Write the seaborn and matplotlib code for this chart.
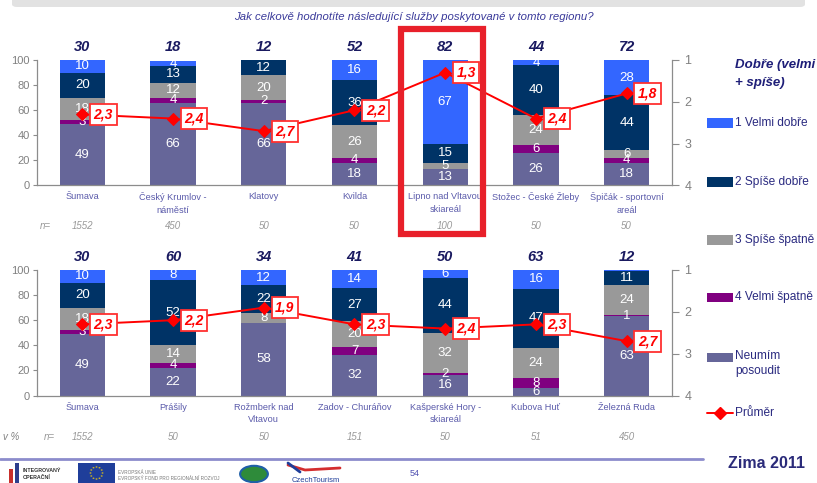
import numpy as np
import pandas as pd
import matplotlib
matplotlib.use("Agg")
import matplotlib.pyplot as plt
from matplotlib.patches import Rectangle, FancyBboxPatch, Circle
from matplotlib.lines import Line2D
import seaborn as sns

# ---------------- data ----------------
title = "Jak celkově hodnotíte následující služby poskytované v tomto regionu?"

top_categories = ["Šumava", "Český Krumlov -\nnáměstí", "Klatovy", "Kvilda",
                  "Lipno nad Vltavou\nskiareál", "Stožec - České Žleby",
                  "Špičák - sportovní\nareál"]
top_velmi_dobre = [10, 4, 0, 16, 67, 4, 28]
top_spise_dobre = [20, 13, 12, 36, 15, 40, 44]
top_spise_spatne = [18, 12, 20, 26, 5, 24, 6]
top_velmi_spatne = [3, 4, 2, 4, 0, 6, 4]
top_neumim = [49, 66, 66, 18, 13, 26, 18]
top_dobre = [30, 18, 12, 52, 82, 44, 72]
top_prumer = [2.3, 2.4, 2.7, 2.2, 1.3, 2.4, 1.8]
top_n = ["1552", "450", "50", "50", "100", "50", "50"]

bot_categories = ["Šumava", "Prášily", "Rožmberk nad\nVltavou", "Zadov - Churáňov",
                  "Kašperské Hory -\nskiareál", "Kubova Huť", "Železná Ruda"]
bot_velmi_dobre = [10, 8, 12, 14, 6, 16, 1]
bot_spise_dobre = [20, 52, 22, 27, 44, 47, 11]
bot_spise_spatne = [18, 14, 8, 20, 32, 24, 24]
bot_velmi_spatne = [3, 4, 0, 7, 2, 8, 1]
bot_neumim = [49, 22, 58, 32, 16, 6, 63]
bot_dobre = [30, 60, 34, 41, 50, 63, 12]
bot_prumer = [2.3, 2.2, 1.9, 2.3, 2.4, 2.3, 2.7]
bot_n = ["1552", "50", "50", "151", "50", "51", "450"]

series_names = ["Neumím posoudit", "4 Velmi špatně", "3 Spíše špatně",
                "2 Spíše dobře", "1 Velmi dobře"]
series_colors = ["#666699", "#800080", "#999999", "#003366", "#3366FF"]
legend_labels = ["1 Velmi dobře", "2 Spíše dobře", "3 Spíše špatně",
                 "4 Velmi špatně", "Neumím\nposoudit"]

# ---------------- style ----------------
sns.set_style("white")
plt.rcParams["font.family"] = ["Liberation Sans", "DejaVu Sans"]

W, H = 817, 483
fig = plt.figure(figsize=(W / 100, H / 100), dpi=100)
fig.patch.set_facecolor("white")


def fx(x):
    return x / W


def fy(y):
    return 1 - y / H


AX_GRAY = "#8C8C8C"
CAT_COLOR = "#5A5AAA"
NAVY_TXT = "#1E1E78"
RED = "#FF0000"


def panel(top_px, cats, vd, sd, ss, vs, nm, dobre, prumer, nvals, show_vperc):
    ax = fig.add_axes([fx(37), fy(top_px + 125.5), fx(635), 125.5 / H])
    series = [nm, vs, ss, sd, vd]
    cum = np.cumsum(np.array(series, dtype=float), axis=0)
    # draw tallest cumulative first, so each later bar covers the lower part
    for k in range(4, -1, -1):
        df = pd.DataFrame({"cat": cats, "val": cum[k]})
        sns.barplot(data=df, x="cat", y="val", order=cats, color=series_colors[k],
                    saturation=1, width=0.5, ax=ax, linewidth=0, errorbar=None)
    # segment labels
    for k in range(5):
        for i in range(len(cats)):
            v = series[k][i]
            if v <= 0 or (k == 4 and v < 2):
                continue
            mid = cum[k][i] - v / 2
            ax.text(i, mid, str(v), ha="center", va="center", color="white",
                    fontsize=9.5)
    ax.set_xlim(-0.5, 6.5)
    ax.set_ylim(0, 100)
    ax.set_yticks([0, 20, 40, 60, 80, 100])
    ax.set_xticks(np.arange(-0.5, 7, 1))
    ax.set_xticklabels([])
    ax.set_xlabel("")
    ax.set_ylabel("")
    ax.tick_params(axis="y", direction="out", length=3, width=0.8, color=AX_GRAY,
                   labelcolor="#808080", labelsize=8, pad=2)
    ax.tick_params(axis="x", direction="out", length=4, width=0.8, color=AX_GRAY)
    for s in ["top", "right"]:
        ax.spines[s].set_visible(False)
    for s in ["left", "bottom"]:
        ax.spines[s].set_color(AX_GRAY)
        ax.spines[s].set_linewidth(0.9)
    ax.patch.set_alpha(0)

    # category labels, n row, top numbers
    for i, c in enumerate(cats):
        ax.annotate(c, xy=(i, 0), xycoords=("data", "axes fraction"),
                    xytext=(0, -7), textcoords="offset pixels", ha="center",
                    va="top", fontsize=6.6, color=CAT_COLOR, linespacing=1.55)
        ax.annotate(nvals[i], xy=(i, 0), xycoords=("data", "axes fraction"),
                    xytext=(0, -41), textcoords="offset pixels", ha="center",
                    va="center", fontsize=7, color="#999999", style="italic")
        ax.annotate(str(dobre[i]), xy=(i, 1), xycoords=("data", "axes fraction"),
                    xytext=(0, 13), textcoords="offset pixels", ha="center",
                    va="center", fontsize=10.5, color="#1A1A60", weight="bold",
                    style="italic")
    ax.annotate("n=", xy=(-0.5, 0), xycoords=("data", "axes fraction"),
                xytext=(8 if not show_vperc else 12, -41), textcoords="offset pixels",
                ha="center", va="center", fontsize=7, color="#999999",
                style="italic")
    if show_vperc:
        ax.annotate("v %", xy=(0, 0), xycoords="axes fraction",
                    xytext=(-26, -42), textcoords="offset pixels", ha="center",
                    va="center", fontsize=7, color="#808080", style="italic")

    # mean line on inverted secondary axis
    ax2 = ax.twinx()
    sns.lineplot(x=np.arange(len(cats)), y=prumer, ax=ax2, color=RED,
                 marker="D", markersize=6, markeredgecolor=RED, linewidth=1.4)
    ax2.set_xlim(-0.5, 6.5)
    ax2.set_ylim(4, 1)
    ax2.set_yticks([1, 2, 3, 4])
    ax2.set_yticklabels(["1", "2", "3", "4"])
    ax2.set_ylabel("")
    ax2.tick_params(axis="y", direction="out", length=5, width=0.8, color=AX_GRAY,
                    labelcolor="#808080", labelsize=9, pad=4)
    for s in ["top", "left", "bottom"]:
        ax2.spines[s].set_visible(False)
    ax2.spines["right"].set_color(AX_GRAY)
    ax2.spines["right"].set_linewidth(0.9)
    for i, m in enumerate(prumer):
        ax2.annotate(f"{m:.1f}".replace(".", ","), xy=(i, m),
                     xytext=(21, 0), textcoords="offset pixels", ha="center",
                     va="center", fontsize=10, color=RED, weight="bold",
                     style="italic",
                     bbox=dict(boxstyle="square,pad=0.25", fc="white",
                               ec="#FF3030", lw=1.3))
    return ax, ax2


panel(60, top_categories, top_velmi_dobre, top_spise_dobre, top_spise_spatne,
      top_velmi_spatne, top_neumim, top_dobre, top_prumer, top_n, False)
panel(270, bot_categories, bot_velmi_dobre, bot_spise_dobre, bot_spise_spatne,
      bot_velmi_spatne, bot_neumim, bot_dobre, bot_prumer, bot_n, True)

# ---------------- title and decorations ----------------
fig.text(fx(414), fy(17), title, ha="center", va="center", fontsize=8.2,
         style="italic", color="#3A3A9A")
fig.patches.append(FancyBboxPatch((fx(12), fy(7)), fx(793), 10 / H,
                                  boxstyle="round,pad=0,rounding_size=0.006",
                                  transform=fig.transFigure, fc="#E2E2E2",
                                  ec="none"))
# red highlight rectangle around Lipno
fig.patches.append(Rectangle((fx(401), fy(234)), fx(82), 205 / H,
                             transform=fig.transFigure, fill=False,
                             ec="#E8202A", lw=4.5, zorder=10))

# ---------------- legend ----------------
fig.text(fx(735), fy(65), "Dobře (velmi", ha="left", va="center", fontsize=9.5,
         weight="bold", style="italic", color=NAVY_TXT)
fig.text(fx(735), fy(83), "+ spíše)", ha="left", va="center", fontsize=9.5,
         weight="bold", style="italic", color=NAVY_TXT)
leg_y = [123, 182, 240, 297, 357]
leg_cols = series_colors[::-1]
for y, lab, col in zip(leg_y, legend_labels, leg_cols):
    fig.patches.append(Rectangle((fx(707), fy(y + 4.5)), fx(26), 9 / H,
                                 transform=fig.transFigure, fc=col, ec="none"))
    if "\n" in lab:
        fig.text(fx(735), fy(y - 7), lab, ha="left", va="top", fontsize=8.6,
                 color="#2A2A80", linespacing=1.3)
    else:
        fig.text(fx(735), fy(y), lab, ha="left", va="center", fontsize=8.6,
                 color="#2A2A80")
fig.lines.append(Line2D([fx(707), fx(733)], [fy(413), fy(413)],
                        transform=fig.transFigure, color=RED, lw=1.4))
fig.lines.append(Line2D([fx(720)], [fy(413)], transform=fig.transFigure,
                        color=RED, marker="D", markersize=6, lw=0))
fig.text(fx(735), fy(413), "Průměr", ha="left", va="center", fontsize=8.6,
         color="#2A2A80")

# ---------------- footer ----------------
fig.lines.append(Line2D([0, fx(703)], [fy(459), fy(459)], transform=fig.transFigure,
                        color="#8C8CCC", lw=2))
fig.text(fx(766), fy(463), "Zima 2011", ha="center", va="center", fontsize=11.5,
         weight="bold", color="#2B2B7A")
fig.text(fx(415), fy(474), "54", ha="center", va="center", fontsize=6.5,
         color="#5050B0")
# simplified logos
fig.patches.append(Rectangle((fx(9), 0), fx(4), 14 / H, transform=fig.transFigure,
                             fc="#C8302C", ec="none"))
fig.patches.append(Rectangle((fx(15), 0), fx(4), 20 / H, transform=fig.transFigure,
                             fc="#2D3E8C", ec="none"))
fig.text(fx(23), fy(471), "INTEGROVANÝ", fontsize=3.8, weight="bold",
         color="#333333", va="center")
fig.text(fx(23), fy(477), "OPERAČNÍ", fontsize=3.8, weight="bold",
         color="#333333", va="center")
fig.patches.append(Rectangle((fx(78), 0), fx(37), 20 / H, transform=fig.transFigure,
                             fc="#1F3E9A", ec="none"))
for a in np.linspace(0, 2 * np.pi, 12, endpoint=False):
    fig.patches.append(Circle((fx(96.5 + 6 * np.cos(a)), fy(473 + 6 * np.sin(a))),
                              0.0012, transform=fig.transFigure, fc="#FFD400",
                              ec="none"))
fig.text(fx(118), fy(472), "EVROPSKÁ UNIE", fontsize=3.3, color="#777777",
         va="center")
fig.text(fx(118), fy(478), "EVROPSKÝ FOND PRO REGIONÁLNÍ ROZVOJ", fontsize=3.3,
         color="#777777", va="center")
fig.patches.append(Circle((fx(254), fy(474)), 0.017, transform=fig.transFigure,
                          fc="#2E8B3A", ec="#1F5FA8", lw=1.5))
fig.lines.append(Line2D([fx(288), fx(305), fx(340)], [fy(465), fy(470), fy(468)],
                        transform=fig.transFigure, color="#D42E2E", lw=2))
fig.lines.append(Line2D([fx(288), fx(300)], [fy(463), fy(472)],
                        transform=fig.transFigure, color="#1F3E9A", lw=2))
fig.text(fx(292), fy(481), "CzechTourism", fontsize=5.5, color="#1F3E9A",
         va="center")

fig.savefig("out.png", dpi=100)
